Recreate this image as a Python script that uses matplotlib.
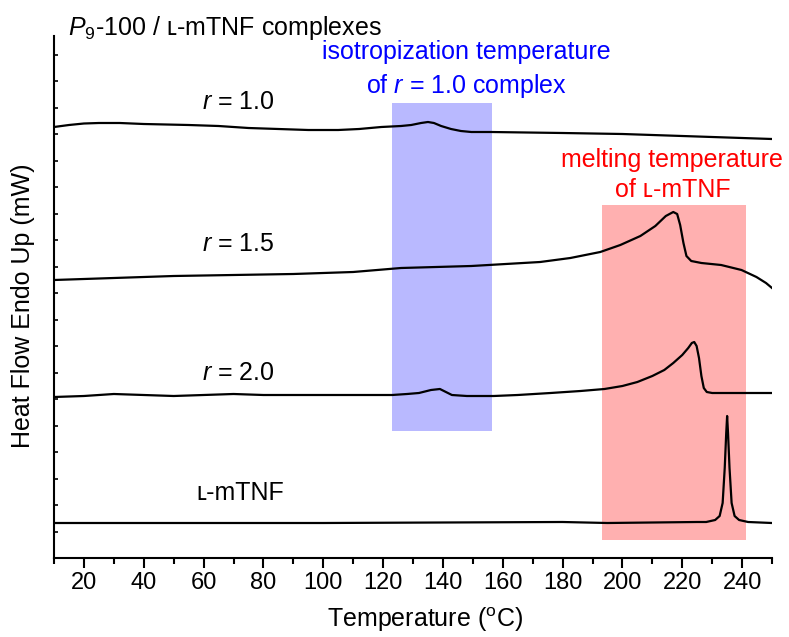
import numpy as np
import matplotlib
matplotlib.use('Agg')
import matplotlib.pyplot as plt
from matplotlib.patches import Rectangle

plt.rcParams['font.family'] = ['Liberation Sans', 'DejaVu Sans']
plt.rcParams['mathtext.fontset'] = 'custom'
plt.rcParams['mathtext.rm'] = 'Liberation Sans'
plt.rcParams['mathtext.it'] = 'Liberation Sans:italic'

# DSC traces (temperature in C, heat flow in a.u., offset per trace)
t_r10 = [10, 15, 20, 25, 32, 40, 55, 65, 75, 85, 95, 105, 112, 119.4, 122.7, 126,
         129.4, 132.7, 135, 137, 139.4, 142.7, 146, 149.5, 156, 180, 200, 220, 240, 250]
hf_r10 = [431, 433, 434.5, 435, 435, 434, 433, 432, 430, 429, 428, 428, 429, 431, 431.5, 432,
          433, 435, 436, 435, 432, 429, 427, 426, 426, 425, 424, 422, 420, 419]

t_r15 = [10, 30, 50, 70, 90, 110, 126, 149.5, 172.5, 182.6, 192.6, 199.3, 206, 211,
         214.5, 217, 218.3, 219.3, 220.4, 221.4, 223, 226.4, 233, 239.8, 244.8, 248, 250]
hf_r15 = [278, 280, 282, 283, 284, 286, 290, 292, 296, 300, 306, 313, 322, 332,
          342, 346, 344, 333, 315, 302, 297, 295, 293, 288, 281, 275, 270]

t_r20 = [10, 20, 30, 40, 50, 60, 70, 80, 92, 110, 123, 128, 132, 136, 139, 141, 143,
         148, 157, 165, 176, 186, 194, 200, 205, 210, 214, 217, 220, 222, 223.2, 224,
         224.8, 225.6, 226.4, 227.2, 228.2, 230, 250]
hf_r20 = [161, 162, 164, 163, 162, 163, 164, 163, 163, 163, 163, 164, 165, 168, 169, 166, 163,
          162, 162, 163, 165, 167, 169, 172, 176, 182, 188, 195, 203, 210, 215, 216,
          212, 200, 182, 170, 166, 165, 165]

t_lm = [10, 100, 180, 195, 225, 228, 231, 232.5, 233.5, 234.2, 234.7, 235, 235.3,
        235.8, 236.5, 237.5, 239, 242, 250]
hf_lm = [35, 35, 36, 35, 36, 36, 38, 42, 55, 90, 125, 142, 125,
         90, 55, 42, 38, 36, 35]

# shaded temperature windows: (T start, T end, heat flow bottom, heat flow top)
iso_box = [123, 156.5, 127, 455]
melt_box = [193.3, 241.4, 18, 353]

fig = plt.figure(figsize=(7.89, 6.37), dpi=100)
ax = fig.add_axes([54 / 789, 1 - 558 / 637, (772 - 54) / 789, (558 - 36) / 637])

ax.add_patch(Rectangle((iso_box[0], iso_box[2]), iso_box[1] - iso_box[0],
                       iso_box[3] - iso_box[2], color='#b9b9ff', lw=0, zorder=1))
ax.add_patch(Rectangle((melt_box[0], melt_box[2]), melt_box[1] - melt_box[0],
                       melt_box[3] - melt_box[2], color='#ffb0b0', lw=0, zorder=1))

for t, hf in [(t_r10, hf_r10), (t_r15, hf_r15), (t_r20, hf_r20), (t_lm, hf_lm)]:
    ax.plot(t, hf, color='k', lw=1.6, zorder=3, solid_joinstyle='round')

ax.set_xlim(10, 250)
ax.set_ylim(0, 522)
ax.set_xticks(np.arange(20, 250, 20))
ax.set_xticks(np.arange(10, 251, 10), minor=True)
ax.set_yticks(np.arange(0, 522, 26.5))
ax.set_yticklabels([])
ax.spines['top'].set_visible(False)
ax.spines['right'].set_visible(False)
ax.spines['left'].set_linewidth(1.5)
ax.spines['bottom'].set_linewidth(1.5)
ax.tick_params(axis='x', which='major', direction='out', length=7, width=1.5, labelsize=17, pad=3)
ax.tick_params(axis='x', which='minor', direction='out', length=4, width=1.5)
ax.tick_params(axis='y', which='major', direction='in', length=3, width=1.2)

ax.set_xlabel('Temperature ($^{\\rm o}$C)', fontsize=18)
ax.set_ylabel('Heat Flow Endo Up (mW)', fontsize=18)
ax.xaxis.set_label_coords((425 - 54) / 718, -(605 - 558) / 522)
ax.yaxis.set_label_coords((35 - 54) / 718, (558 - 306) / 522)

ax.text(14.7, 530, '$P$$_{9}$-100 / \u029f-mTNF complexes', fontsize=18, ha='left', va='center')
ax.text(71.5, 456, '$r$ = 1.0', fontsize=18, ha='center', va='center')
ax.text(71.5, 314, '$r$ = 1.5', fontsize=18, ha='center', va='center')
ax.text(71.5, 185, '$r$ = 2.0', fontsize=18, ha='center', va='center')
ax.text(72.2, 65, '\u029f-mTNF', fontsize=18, ha='center', va='center')

ax.text(147.8, 506, 'isotropization temperature', fontsize=18, color='#0000ff', ha='center', va='center')
ax.text(147.8, 472, 'of $r$ = 1.0 complex', fontsize=18, color='#0000ff', ha='center', va='center')
ax.text(216.4, 398, 'melting temperature', fontsize=18, color='#ff0000', ha='center', va='center')
ax.text(217, 368, 'of \u029f-mTNF', fontsize=18, color='#ff0000', ha='center', va='center')

fig.savefig('out.png', dpi=100)
